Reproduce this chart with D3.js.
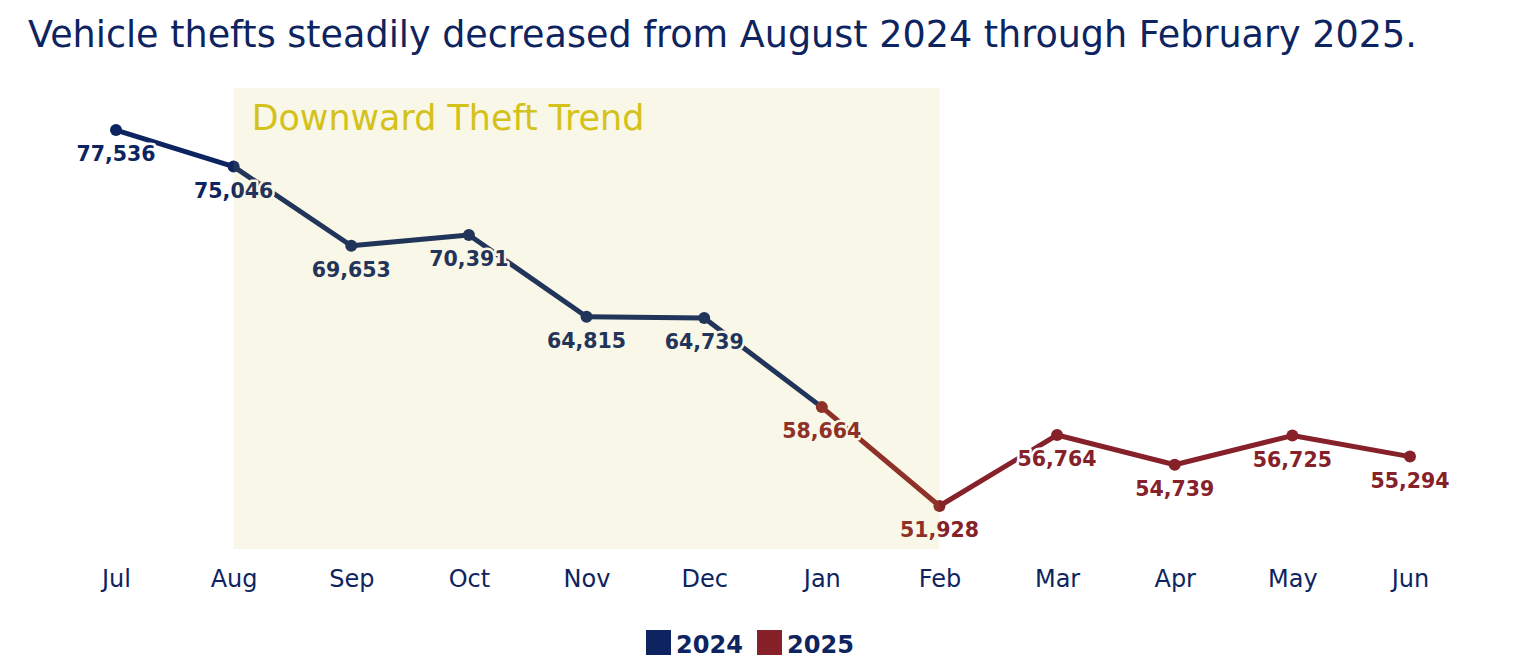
<!DOCTYPE html>
<html><head><meta charset="utf-8">
<script src="https://cdn.jsdelivr.net/npm/d3@7"></script>
<style>
html,body{margin:0;padding:0;background:#fff;}
svg{display:block;}
text{font-family:"DejaVu Sans","Open Sans",sans-serif;}
</style></head>
<body>
<svg id="chart" width="1532" height="666"></svg>
<script>
const months = ["Jul","Aug","Sep","Oct","Nov","Dec","Jan","Feb","Mar","Apr","May","Jun"];
const years = [2024,2024,2024,2024,2024,2024,2025,2025,2025,2025,2025,2025];
const values = [77536,75046,69653,70391,64815,64739,58664,51928,56764,54739,56725,55294];
const legendYears = [2024,2025];
const trendStart = "Aug", trendEnd = "Feb";
const titleText = "Vehicle thefts steadily decreased from August 2024 through February 2025.";
const trendLabel = "Downward Theft Trend";

const colors = {2024:"#0d2460", 2025:"#86212a"};
const svg = d3.select("#chart");
const fmt = d3.format(",");

const x = d3.scalePoint().domain(months).range([116,1410]);
const y = d3.scaleLinear().domain([49000,80400]).range([549,88]);

function fitWidth(sel, size, target){
  sel.attr("font-size", size);
  const w = sel.node().getComputedTextLength();
  sel.attr("font-size", size*target/w);
}

// title
const title = svg.append("text").attr("x",28).attr("y",47)
  .attr("fill","#0d2460").text(titleText);
fitWidth(title, 34, 1389);

const data = months.map((m,i)=>({m, year:years[i], v:values[i]}));

// segments
const g = svg.append("g");
for(let i=0;i<data.length-1;i++){
  g.append("line")
    .attr("x1",x(data[i].m)).attr("y1",y(data[i].v))
    .attr("x2",x(data[i+1].m)).attr("y2",y(data[i+1].v))
    .attr("stroke",colors[data[i].year]).attr("stroke-width",5)
    .attr("stroke-linecap","round");
}
g.selectAll("circle").data(data).join("circle")
  .attr("cx",d=>x(d.m)).attr("cy",d=>y(d.v)).attr("r",6)
  .attr("fill",d=>colors[d.year]);

// value labels with halo
g.selectAll("text.val").data(data).join("text").attr("class","val")
  .attr("x",d=>x(d.m)).attr("y",d=>y(d.v)+31)
  .attr("text-anchor","middle").attr("font-size",20.5).attr("font-weight",700)
  .attr("fill",d=>colors[d.year])
  .attr("stroke","#fff").attr("stroke-width",5).attr("paint-order","stroke")
  .attr("stroke-linejoin","round")
  .text(d=>fmt(d.v));

// shaded trend band overlay
svg.append("rect")
  .attr("x",x(trendStart)).attr("y",y.range()[1])
  .attr("width",x(trendEnd)-x(trendStart)).attr("height",y.range()[0]-y.range()[1])
  .attr("fill","rgb(200,185,40)").attr("fill-opacity",0.11);

const tl = svg.append("text").attr("x",x(trendStart)+18).attr("y",130)
  .attr("fill","#d4c21a").text(trendLabel);
fitWidth(tl, 30, 393);

// x axis labels
const xAxis = d3.axisBottom(x).tickSize(0).tickPadding(0);
const ax = svg.append("g").attr("transform","translate(0,587)").call(xAxis);
ax.select(".domain").remove();
ax.selectAll("text").attr("font-size",24).attr("fill","#0d2460")
  .attr("font-family","'DejaVu Sans',sans-serif").attr("dy",0).attr("y",0);

// legend
const leg = svg.append("g");
const lx = [646,757];
legendYears.forEach((yr,i)=>{
  leg.append("rect").attr("x",lx[i]).attr("y",630).attr("width",25).attr("height",25)
    .attr("fill",colors[yr]);
  const t = leg.append("text").attr("x",lx[i]+30).attr("y",653)
    .attr("font-weight",700).attr("fill","#0d2460").text(yr);
  fitWidth(t, 24, 67);
});
</script>
</body></html>
